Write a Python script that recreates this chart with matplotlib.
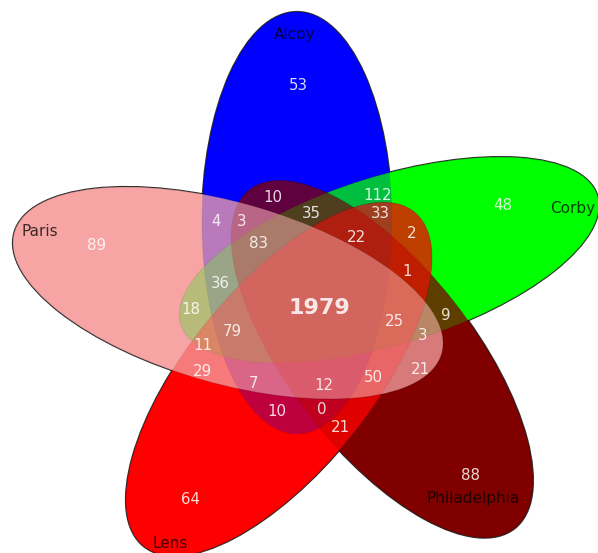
import matplotlib
matplotlib.use("Agg")
import matplotlib.pyplot as plt
from matplotlib.colors import to_rgba
from matplotlib.patches import Ellipse

# sets (drawing order) and their colours
names = ["Alcoy", "Corby", "Philadelphia", "Lens", "Paris"]
colors = ["#0000ff", "#00ff00", "#800000", "#ff0000", "#f6a4a4"]

# region counts
counts = [53, 89, 48, 64, 88,
          10, 112, 4, 3, 35, 33, 2, 22, 83, 1,
          36, 18, 1979, 9, 25, 79, 3, 11, 29, 21,
          7, 50, 12, 10, 0, 21]

# layout (pixels, y down)
ellipses = [  # cx, cy, width, height, angle
    (297, 223, 422, 190, 90),
    (389, 260, 436, 168, -17.2),
    (382, 359, 430, 184, 52),
    (279, 379, 430, 184, -51),
    (228, 293, 444, 181, 15.8),
]
count_pos = [(298, 85), (97, 246), (503, 206), (191, 500), (470, 476),
             (273, 198), (378, 195), (216, 222), (242, 222), (311, 213),
             (380, 213), (412, 233), (356, 238), (258, 244), (407, 271),
             (220, 283), (191, 309), (319, 308), (446, 316), (394, 322),
             (232, 331), (423, 336), (203, 346), (202, 372), (420, 369),
             (253, 383), (373, 378), (324, 386), (277, 412), (322, 410),
             (340, 428)]
name_pos = [(295, 34), (573, 208), (473, 499), (170, 544), (40, 232)]

fig = plt.figure(figsize=(5.98, 5.53), dpi=100)
ax = fig.add_axes([0, 0, 1, 1])
ax.set_xlim(0, 598)
ax.set_ylim(553, 0)
ax.set_axis_off()

# outlines underneath, so only the outer border shows
for cx, cy, w, h, ang in ellipses:
    ax.add_patch(Ellipse((cx, cy), w, h, angle=ang, facecolor="none",
                         edgecolor="black", lw=1.6, alpha=0.8, zorder=0))
# solid pass, then a translucent pass so overlaps mix
for (cx, cy, w, h, ang), c in zip(ellipses, colors):
    ax.add_patch(Ellipse((cx, cy), w, h, angle=ang, facecolor=c,
                         edgecolor="none", zorder=1))
for (cx, cy, w, h, ang), c in zip(ellipses, colors):
    ax.add_patch(Ellipse((cx, cy), w, h, angle=ang,
                         facecolor=to_rgba(c, 0.5),
                         edgecolor=(0, 0, 0, 0.18), lw=0.6, zorder=2))

for n, (x, y) in zip(counts, count_pos):
    big = n == 1979
    ax.text(x, y, str(n), ha="center", va="center", color="white",
            alpha=0.85, fontsize=16 if big else 10.8,
            fontweight="bold" if big else "normal", zorder=3)

for n, (x, y) in zip(names, name_pos):
    ax.text(x, y, n, ha="center", va="center", color="black", alpha=0.75,
            fontsize=11, zorder=3)

fig.savefig("out.png", dpi=100)
